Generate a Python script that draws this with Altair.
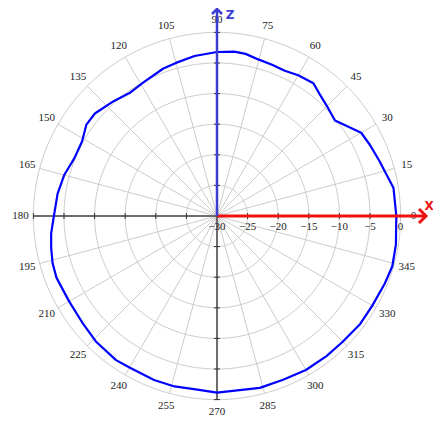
import altair as alt
import pandas as pd
import numpy as np

# ---- data ----
angles_deg = [0, 9, 19, 25, 30, 34, 39, 45, 50, 54, 60, 65, 70, 75, 80, 84, 90,
              98, 105, 110, 119, 125, 132, 140, 145, 151, 158, 165, 172, 180,
              186, 191, 196, 201, 210, 219, 226, 235, 240, 249, 256, 263, 270,
              284, 292, 300, 308, 315, 323, 330, 338, 344, 351, 360]
gain_db = [-0.7, -0.8, -2.0, -2.45, -2.8, -4.0, -5.2, -4.6, -3.95, -3.2, -3.45, -3.8, -3.7, -3.55, -3.1, -3.0, -3.2,
           -3.6, -4.1, -4.35, -5.1, -5.35, -4.75, -3.95, -3.95, -4.8, -4.85, -4.15, -3.7, -3.35,
           -2.75, -2.4, -2.05, -1.9, -2.1, -1.9, -1.5, -1.25, -1.4, -1.3, -1.3, -1.45, -1.15,
           -1.05, -1.15, -0.95, -0.95, -0.95, -0.7, -0.7, -0.45, -0.2, -0.4, -0.7]
ring_db = [-30, -25, -20, -15, -10, -5, 0]
ring_labels = ["\u221230", "\u221225", "\u221220", "\u221215", "\u221210", "\u22125", "0"]
spoke_deg = list(range(0, 360, 15))
angle_labels = [str(a) for a in spoke_deg]

OFF = 30.0          # radial offset so that -30 dB sits at the centre
PX = 6.12           # pixels per dB
W, H = 425, 419
CX, CY = 209, 208   # centre inside the plot area
XD = [-CX / PX, (W - CX) / PX]
YD = [-(H - CY) / PX, CY / PX]

X = alt.X("x:Q", scale=alt.Scale(domain=XD, nice=False, zero=False), axis=None)
Y = alt.Y("y:Q", scale=alt.Scale(domain=YD, nice=False, zero=False), axis=None)

# pattern
pattern = pd.DataFrame({"i": range(len(angles_deg)), "deg": angles_deg, "db": gain_db})
curve = alt.Chart(pattern).transform_calculate(
    r=f"datum.db + {OFF}"
).transform_calculate(
    x="datum.r * cos(datum.deg * PI / 180)",
    y="datum.r * sin(datum.deg * PI / 180)",
).mark_line(color="#0000ff", strokeWidth=2.2, strokeJoin="round").encode(x=X, y=Y, order="i:Q")

# grid circles
circ_rows = [(rd, a) for rd in ring_db[1:] for a in np.arange(0, 361, 2)]
circ_df = pd.DataFrame(circ_rows, columns=["ring", "a"])
circles = alt.Chart(circ_df).transform_calculate(
    x=f"(datum.ring + {OFF}) * cos(datum.a * PI / 180)",
    y=f"(datum.ring + {OFF}) * sin(datum.a * PI / 180)",
).mark_line(color="#cccccc", strokeWidth=1).encode(x=X, y=Y, detail="ring:N", order="a:Q")

# spokes
spoke_df = pd.DataFrame({"deg": spoke_deg, "label": angle_labels})
spokes = alt.Chart(spoke_df).transform_calculate(
    x="0", y="0",
    x2=f"{OFF} * cos(datum.deg * PI / 180)",
    y2=f"{OFF} * sin(datum.deg * PI / 180)",
).mark_rule(color="#cccccc", strokeWidth=1).encode(x=X, y=Y, x2="x2:Q", y2="y2:Q")

angle_text = alt.Chart(spoke_df).transform_calculate(
    x="32.1 * cos(datum.deg * PI / 180)",
    y="32.1 * sin(datum.deg * PI / 180)",
).mark_text(font="Liberation Serif", fontSize=11, color="#222222",
            align="center", baseline="middle").encode(x=X, y=Y, text="label:N")

# axis lines
RX = (426 - 217) / PX
RZ = (216 - 9) / PX
axes_df = pd.DataFrame({
    "x": [-OFF, 0, 0, 0], "y": [0, -OFF, 0, 0],
    "x2": [0, 0, RX, 0], "y2": [0, 0, 0, RZ],
    "k": ["black", "black", "red", "blue"],
})
black_lines = alt.Chart(axes_df).transform_filter("datum.k == 'black'").mark_rule(
    strokeWidth=1.5, color="#444444").encode(x=X, y=Y, x2="x2:Q", y2="y2:Q")
red_line = alt.Chart(axes_df).transform_filter("datum.k == 'red'").mark_rule(
    strokeWidth=3, color="#ee1111").encode(x=X, y=Y, x2="x2:Q", y2="y2:Q")
blue_line = alt.Chart(axes_df).transform_filter("datum.k == 'blue'").mark_rule(
    strokeWidth=2.5, color="#3c3cd0").encode(x=X, y=Y, x2="x2:Q", y2="y2:Q")

# tick marks on axes
tick_df = pd.DataFrame({"r": [v + OFF for v in ring_db[1:]]})
vt_left = alt.Chart(tick_df).transform_calculate(x="-datum.r", y="0").mark_point(
    shape="M0,-1L0,1", size=36, filled=False, color="#333333", strokeWidth=1, opacity=1
).encode(x=X, y=Y)
vt_right = alt.Chart(tick_df).transform_filter(f"datum.r < {OFF}").transform_calculate(
    x="datum.r", y="0").mark_point(
    shape="M0,-1L0,1", size=36, filled=False, color="#333333", strokeWidth=1, opacity=1
).encode(x=X, y=Y)
ht_down = alt.Chart(tick_df).transform_calculate(x="0", y="-datum.r").mark_point(
    shape="M-1,0L1,0", size=36, filled=False, color="#333333", strokeWidth=1, opacity=1
).encode(x=X, y=Y)
ht_up = alt.Chart(tick_df).transform_calculate(x="0", y="datum.r").mark_point(
    shape="M-1,0L1,0", size=36, filled=False, color="#333333", strokeWidth=1, opacity=1
).encode(x=X, y=Y)

# arrowheads
head_df = pd.DataFrame({"x": [RX, 0], "y": [0, RZ], "k": ["red", "blue"]})
red_head = alt.Chart(head_df).transform_filter("datum.k == 'red'").mark_point(
    shape="M-1,-1L0,0L-1,1", size=196, filled=False, color="#ee1111", strokeWidth=3, opacity=1
).encode(x=X, y=Y)
blue_head = alt.Chart(head_df).transform_filter("datum.k == 'blue'").mark_point(
    shape="M-1,1L0,0L1,1", size=100, filled=False, color="#3c3cd0", strokeWidth=2.5, opacity=1
).encode(x=X, y=Y)

# radial labels
rl_df = pd.DataFrame({"db": ring_db, "label": ring_labels})
radial_text = alt.Chart(rl_df).transform_calculate(
    x=f"datum.db + {OFF}", y="0"
).mark_text(font="Liberation Serif", fontSize=11, color="#222222", dy=11,
            align="center", baseline="middle").encode(x=X, y=Y, text="label:N")

# axis names
name_df = pd.DataFrame({"x": [(429 - 217) / PX, (230 - 217) / PX],
                        "y": [(216 - 206) / PX, (216 - 15) / PX],
                        "t": ["X", "Z"]})
x_name = alt.Chart(name_df).transform_filter("datum.t == 'X'").mark_text(
    font="DejaVu Sans", fontSize=12, fontWeight="bold", color="#ee1111",
    align="center", baseline="middle").encode(x=X, y=Y, text="t:N")
z_name = alt.Chart(name_df).transform_filter("datum.t == 'Z'").mark_text(
    font="DejaVu Sans", fontSize=12, fontWeight="bold", color="#3c3cd0",
    align="center", baseline="middle").encode(x=X, y=Y, text="t:N")

chart = alt.layer(
    circles, spokes, black_lines, vt_left, ht_down, ht_up, vt_right,
    angle_text, radial_text, curve, red_line, blue_line, red_head, blue_head,
    x_name, z_name
).properties(
    width=W, height=H, padding=0, autosize=alt.AutoSizeParams(type="none")
).configure_view(strokeWidth=0)

chart.save("out.html", embed_options={"renderer": "svg", "actions": False})
